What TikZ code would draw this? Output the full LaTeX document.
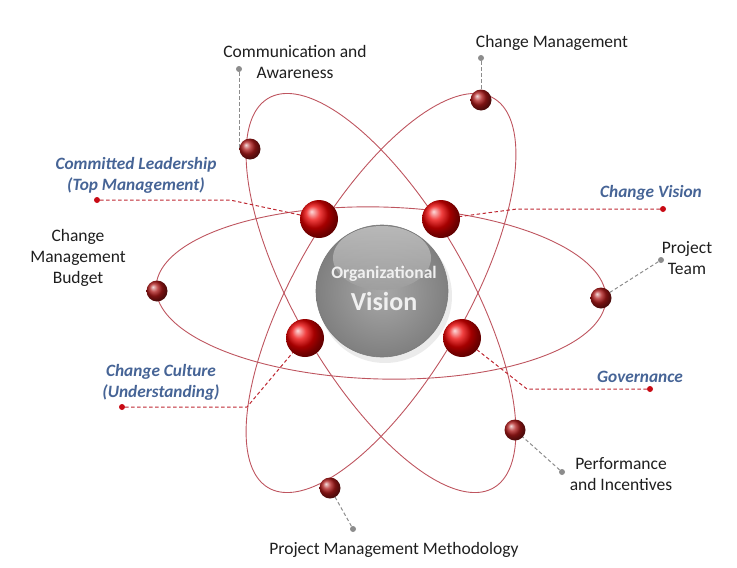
\documentclass[tikz,border=0pt]{standalone}
\usepackage{fontspec}
\setmainfont{Carlito}
\usetikzlibrary{shadings}
\definecolor{orbit}{RGB}{190,85,95}
\definecolor{lblue}{RGB}{70,100,150}
\definecolor{rdash}{RGB}{190,40,50}
\definecolor{rdot}{RGB}{200,10,20}
\definecolor{gdash}{RGB}{140,140,140}
\definecolor{txt}{RGB}{30,30,30}
\tikzset{
  orbitline/.style={draw=orbit, line width=0.9pt},
  bigball/.style={circle, minimum size=38pt, inner sep=0pt, ball color={rgb,255:red,235;green,0;blue,0}},
  smallball/.style={circle, minimum size=21pt, inner sep=0pt, ball color={rgb,255:red,175;green,25;blue,25}},
  rdot/.style={circle, fill=rdot, minimum size=6pt, inner sep=0pt},
  gdot/.style={circle, fill=gdash, minimum size=6pt, inner sep=0pt},
  rline/.style={draw=rdash, line width=1pt, dash pattern=on 3.5pt off 2.5pt},
  gline/.style={draw=gdash, line width=1pt, dash pattern=on 3.5pt off 2.5pt},
  plainlbl/.style={text=txt, align=center, font=\fontsize{17.5}{21}\selectfont},
  bluelbl/.style={text=lblue, align=center, font=\fontsize{17.3}{21}\selectfont\bfseries\itshape},
}
\begin{document}
\begin{tikzpicture}[x=1pt,y=-1pt]
\useasboundingbox (0,0) rectangle (737,568);
% orbits
\foreach \p in {1.5,60,-60}{
  \draw[orbitline] plot[domain=0:360,samples=240,smooth cycle,variable=\t]
    ({381+225*cos(\t)*cos(\p)-86*sin(\t)*sin(\p)},{293+225*cos(\t)*sin(\p)+86*sin(\t)*cos(\p)});
}
% central sphere
\fill[black!8] (385,296) circle (67);
\shade[inner color=black!34, outer color=black!50] (382,291) circle (66);
\shade[top color=black!24, bottom color=black!38, opacity=0.85] (382,258) ellipse (49 and 32);
\draw[black!52, line width=0.6pt] (382,291) circle (66);
\node (core) at (382,291) {};
\node[text=white!94!black, font=\fontsize{17.5}{20}\selectfont\bfseries] (org) at (384,274) {Organizational};
\node[text=white!94!black, font=\fontsize{26}{28}\selectfont\bfseries] (vis) at (384,301) {Vision};
% ball anchors
\coordinate (B1) at (250,149);
\coordinate (B2) at (481,100);
\coordinate (B3) at (157,291);
\coordinate (B4) at (601,298);
\coordinate (B5) at (515,430);
\coordinate (B6) at (330,488);
\coordinate (R1) at (319,219);
\coordinate (R2) at (441,219);
\coordinate (R3) at (305,338);
\coordinate (R4) at (462,338);
% label dots
\node[gdot] (g1) at (239,69) {};
\node[gdot] (g2) at (481,58) {};
\node[gdot] (g3) at (661,260) {};
\node[gdot] (g4) at (562,472) {};
\node[gdot] (g5) at (353,529) {};
\node[rdot] (r1) at (97,200) {};
\node[rdot] (r2) at (663,209) {};
\node[rdot] (r3) at (122,407) {};
\node[rdot] (r4) at (650,389) {};
\coordinate (e1) at (230,200);
\coordinate (e2) at (517,209);
\coordinate (e3) at (247,407);
\coordinate (e4) at (527,389);
% connectors
\draw[gline] (g1) -- (g1 |- B1);
\draw[gline] (g2) -- (B2);
\draw[gline] (g3) -- (B4);
\draw[gline] (g4) -- (B5);
\draw[gline] (g5) -- (B6);
\draw[rline] (r1) -- (e1) -- (R1);
\draw[rline] (r2) -- (e2) -- (R2);
\draw[rline] (r3) -- (e3) -- (R3);
\draw[rline] (r4) -- (e4) -- (R4);
% balls
\node[smallball] (b1) at (B1) {};
\node[smallball] (b2) at (B2) {};
\node[smallball] (b3) at (B3) {};
\node[smallball] (b4) at (B4) {};
\node[smallball] (b5) at (B5) {};
\node[smallball] (b6) at (B6) {};
\node[bigball] (rb1) at (R1) {};
\node[bigball] (rb2) at (R2) {};
\node[bigball] (rb3) at (R3) {};
\node[bigball] (rb4) at (R4) {};
% labels
\node[plainlbl] (l1) at (295,62) {Communication and\\Awareness};
\node[plainlbl] (l2) at (552,43) {Change Management};
\node[plainlbl] (l3) at (687,258) {Project\\Team};
\node[plainlbl] (l4) at (78,258) {Change\\Management\\Budget};
\node[plainlbl] (l5) at (621,474) {Performance\\and Incentives};
\node[plainlbl] (l6) at (394,550) {Project Management Methodology};
\node[bluelbl] (k1) at (136,175) {Committed Leadership\\(Top Management)};
\node[bluelbl] (k2) at (651,193) {Change Vision};
\node[bluelbl] (k3) at (161,382) {Change Culture\\(Understanding)};
\node[bluelbl] (k4) at (640,377) {Governance};
\end{tikzpicture}
\end{document}
